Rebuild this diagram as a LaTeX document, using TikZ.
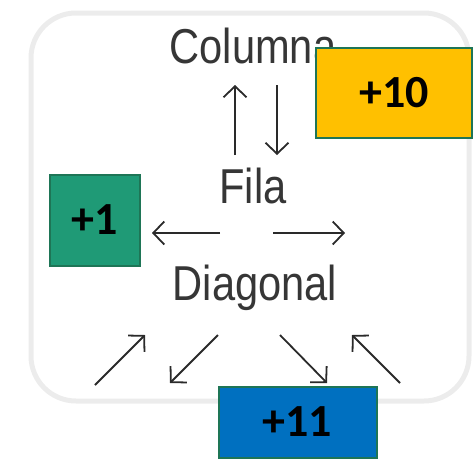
\documentclass[tikz,border=0pt]{standalone}
\usepackage{fontspec}
\setmainfont{Liberation Sans}
\newfontfamily\labfont[FakeStretch=0.85]{Liberation Sans}
\newfontfamily\numfont{Carlito}
\usetikzlibrary{arrows.meta}
\definecolor{txtgray}{HTML}{363636}
\definecolor{arrgray}{HTML}{2A2A2A}
\definecolor{framegray}{HTML}{ECECEC}
\definecolor{boxedge}{HTML}{1E7556}
\definecolor{boxorange}{HTML}{FFC000}
\definecolor{boxgreen}{HTML}{1F9A76}
\definecolor{boxblue}{HTML}{0070C0}
\tikzset{
  word/.style={anchor=base, text=txtgray, inner sep=0pt, font=\labfont\fontsize{49}{55}\selectfont},
  arr/.style={draw=arrgray, line width=1.8pt, -{Straight Barb[length=11pt,width=23pt,line width=1.8pt]}},
  badge/.style={draw=boxedge, line width=2pt, inner sep=0pt, text=black,
     font=\numfont\bfseries\fontsize{46}{50}\selectfont}
}
\begin{document}
\begin{tikzpicture}[x=1pt,y=-1pt]
\useasboundingbox (0,0) rectangle (474,461);
% frame
\draw[framegray, line width=5pt, rounded corners=45pt] (31,13) rectangle (469,401);
% words
\node[word] (col) at (253,63) {Columna};
\node[word] (fila) at (253,203) {Fila};
\node[word] (diag) at (255,300) {Diagonal};
% arrow end points
\coordinate (u1) at (235,155); \coordinate (u2) at (235,85);
\coordinate (d1) at (277,85);  \coordinate (d2) at (277,155);
\coordinate (l1) at (220,233); \coordinate (l2) at (152,233);
\coordinate (r1) at (273,233); \coordinate (r2) at (345,233);
\coordinate (a1) at (95,385);  \coordinate (a2) at (145,335);
\coordinate (b1) at (218,335); \coordinate (b2) at (170,383);
\coordinate (c1) at (280,335); \coordinate (c2) at (327,383);
\coordinate (e1) at (400,383); \coordinate (e2) at (352,335);
\draw[arr] (u1) -- (u2);
\draw[arr] (d1) -- (d2);
\draw[arr] (l1) -- (l2);
\draw[arr] (r1) -- (r2);
\draw[arr] (a1) -- (a2);
\draw[arr] (b1) -- (b2);
\draw[arr] (c1) -- (c2);
\draw[arr] (e1) -- (e2);
% badges
\node[badge, fill=boxorange, minimum width=156pt, minimum height=90pt] (b10) at (394,92.5) {+10};
\node[badge, fill=boxgreen, minimum width=90pt, minimum height=91pt] (b1n) at (94.5,220) {+1};
\node[badge, fill=boxblue, minimum width=158pt, minimum height=71pt] (b11) at (297.5,422) {+11};
\end{tikzpicture}
\end{document}
